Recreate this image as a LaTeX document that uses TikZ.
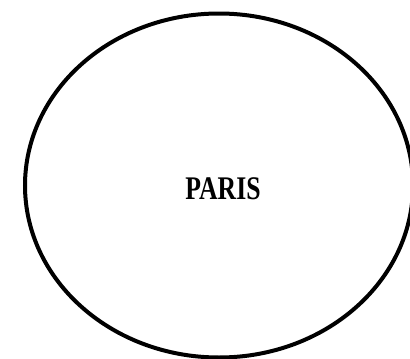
\documentclass[tikz,border=0pt]{standalone}
\usepackage{fontspec}
\setmainfont{Liberation Serif}
\usepackage{tikz}

\begin{document}
\begin{tikzpicture}[x=1pt,y=-1pt,
  every node/.style={font=\fontsize{33}{35}\selectfont\bfseries},line width=4pt]
  \useasboundingbox (0,0) rectangle (410,359);
  \coordinate (centre) at (219,185.5);
  \draw (centre) ellipse [x radius=194,y radius=172];
  \node[xscale=0.78,inner sep=0pt] (paris) at (223,189) {PARIS};
\end{tikzpicture}
\end{document}
